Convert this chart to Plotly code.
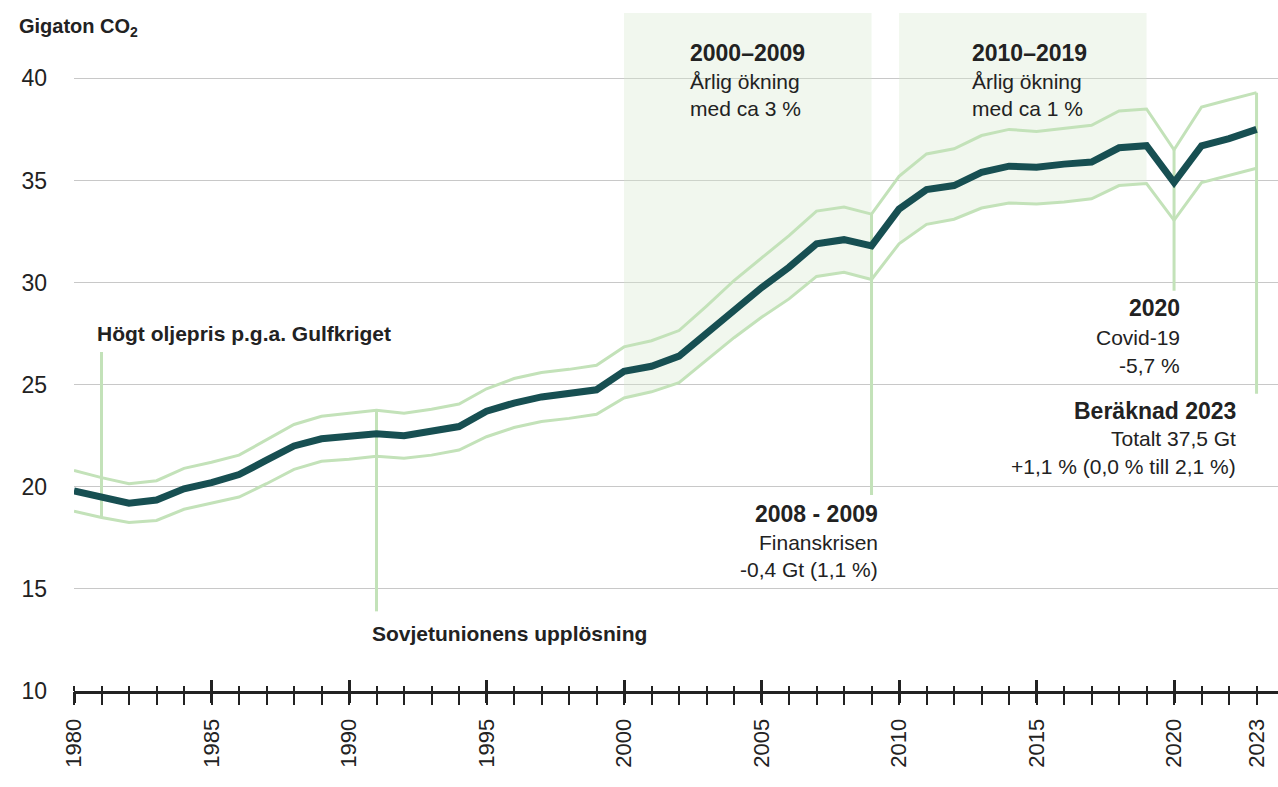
import plotly.graph_objects as go

# ---------------- data ----------------
years = list(range(1980, 2024))
central = [19.8, 19.5, 19.2, 19.35, 19.9, 20.2, 20.6, 21.3, 22.0, 22.35,
           22.5, 22.6, 22.5, 22.7, 22.95, 23.7, 24.1, 24.4, 24.55, 24.75,
           25.65, 25.9, 26.4, 27.5, 28.7, 29.75, 30.75, 31.9, 32.1, 31.8,
           33.6, 34.55, 34.75, 35.4, 35.7, 35.65, 35.8, 35.9, 36.6, 36.7,
           34.9, 36.7, 37.05, 37.5]
upper = [20.8, 20.45, 20.15, 20.3, 20.9, 21.2, 21.55, 22.3, 23.05, 23.45,
         23.6, 23.75, 23.6, 23.8, 24.05, 24.8, 25.3, 25.6, 25.75, 25.95,
         26.85, 27.15, 27.65, 28.85, 30.1, 31.2, 32.3, 33.5, 33.7, 33.35,
         35.2, 36.3, 36.55, 37.2, 37.5, 37.4, 37.55, 37.7, 38.4, 38.5,
         36.5, 38.6, 38.95, 39.3]
lower = [18.8, 18.5, 18.25, 18.35, 18.9, 19.2, 19.5, 20.15, 20.85, 21.25,
         21.35, 21.5, 21.4, 21.55, 21.8, 22.45, 22.9, 23.2, 23.35, 23.55,
         24.35, 24.65, 25.1, 26.2, 27.3, 28.3, 29.2, 30.3, 30.5, 30.15,
         31.9, 32.85, 33.1, 33.65, 33.9, 33.85, 33.95, 34.1, 34.75, 34.85,
         33.05, 34.9, 35.25, 35.6]

shade_periods = [(2000, 2009), (2010, 2019)]
shade_top = 43.2

event_years = [1981, 1991, 2009, 2020, 2023]
event_top = [26.6, 23.75, 33.35, 36.5, 39.3]
event_bottom = [18.5, 13.9, 19.6, 29.6, 24.55]

ytick_vals = [10, 15, 20, 25, 30, 35, 40]
xtick_vals = [1980, 1985, 1990, 1995, 2000, 2005, 2010, 2015, 2020, 2023]
major_ticks = [1980, 1985, 1990, 1995, 2000, 2005, 2010, 2015, 2020]

# ---------------- style ----------------
FONT = "Liberation Sans, Arial, sans-serif"
TXT = "#222222"
DARK = "#174f52"
LIGHT = "#c3e2b9"
SHADE = "rgba(214, 232, 206, 0.35)"
GRID = "#c8c8c8"

fig = go.Figure()

# shaded periods: from the lower band up to the top
for a, b in shade_periods:
    idx = [i for i, y in enumerate(years) if a <= y <= b]
    xs = [years[i] for i in idx] + [years[i] for i in reversed(idx)]
    ys = [lower[i] for i in idx] + [shade_top for _ in idx]
    fig.add_trace(go.Scatter(x=xs, y=ys, fill="toself", fillcolor=SHADE,
                             mode="lines", line=dict(width=0),
                             hoverinfo="skip", showlegend=False))

# uncertainty band lines
for band in (upper, lower):
    fig.add_trace(go.Scatter(x=years, y=band, mode="lines",
                             line=dict(color=LIGHT, width=3),
                             hoverinfo="skip", showlegend=False))

# event marker lines
vx, vy = [], []
for x, t, btm in zip(event_years, event_top, event_bottom):
    vx += [x, x, None]
    vy += [t, btm, None]
fig.add_trace(go.Scatter(x=vx, y=vy, mode="lines",
                         line=dict(color=LIGHT, width=3),
                         hoverinfo="skip", showlegend=False))

# central estimate
fig.add_trace(go.Scatter(x=years, y=central, mode="lines",
                         line=dict(color=DARK, width=7),
                         showlegend=False))

# invisible traces to activate the overlay tick axes
for ax in ("x2", "x3"):
    fig.add_trace(go.Scatter(x=[years[0]], y=[central[0]], xaxis=ax,
                             mode="markers", opacity=0,
                             hoverinfo="skip", showlegend=False))

# ---------------- annotations ----------------
def note(x, y, text, anchor="left", bold=False, size=21):
    fig.add_annotation(x=x, y=y, xref="x", yref="y", text=(f"<b>{text}</b>" if bold else text),
                       showarrow=False, xanchor=anchor, yanchor="middle",
                       font=dict(family=FONT, size=size, color=TXT))

note(1980.76, 27.5, "Högt oljepris p.g.a. Gulfkriget", bold=True, size=21)
note(1990.76, 12.84, "Sovjetunionens upplösning", bold=True, size=21)

note(2002.33, 41.23, "2000–2009", bold=True, size=23)
note(2002.33, 39.85, "Årlig ökning")
note(2002.33, 38.53, "med ca 3 %")

note(2012.58, 41.23, "2010–2019", bold=True, size=23)
note(2012.58, 39.85, "Årlig ökning")
note(2012.58, 38.53, "med ca 1 %")

note(2009.31, 18.68, "2008 - 2009", anchor="right", bold=True, size=23)
note(2009.31, 17.25, "Finanskrisen", anchor="right")
note(2009.31, 15.93, "-0,4 Gt (1,1 %)", anchor="right")

note(2020.29, 28.77, "2020", anchor="right", bold=True, size=23)
note(2020.29, 27.30, "Covid-19", anchor="right")
note(2020.29, 25.93, "-5,7 %", anchor="right")

note(2022.33, 23.73, "Beräknad 2023", anchor="right", bold=True, size=23)
note(2022.33, 22.35, "Totalt 37,5 Gt", anchor="right")
note(2022.33, 20.98, "+1,1 % (0,0 % till 2,1 %)", anchor="right")

fig.add_annotation(x=-0.0473, y=0.979, xref="paper", yref="paper",
                   text="<b>Gigaton CO<sub>2</sub></b>", showarrow=False,
                   xanchor="left", yanchor="middle",
                   font=dict(family=FONT, size=20, color=TXT))

# ---------------- layout ----------------
xr = [1980, 2023.78]
fig.update_layout(
    width=1278, height=787,
    margin=dict(l=74, r=0, t=13, b=96),
    plot_bgcolor="white", paper_bgcolor="white",
    font=dict(family=FONT, color=TXT),
    xaxis=dict(range=xr, tickmode="array", tickvals=xtick_vals,
               ticktext=[str(v) for v in xtick_vals], tickangle=-90,
               ticks="", showline=True, linecolor=TXT, linewidth=3,
               showgrid=False, zeroline=False, ticklabelstandoff=16,
               tickfont=dict(family=FONT, size=22, color=TXT),
               minor=dict(tickmode="array", tickvals=years, ticks="outside",
                          ticklen=11, tickwidth=1.5, tickcolor=TXT)),
    xaxis2=dict(range=xr, matches="x", overlaying="x", anchor="y", side="bottom",
                tickmode="array", tickvals=major_ticks, ticks="outside",
                ticklen=11, tickwidth=3, tickcolor=TXT, showticklabels=False,
                showgrid=False, zeroline=False, showline=False,
                minor=dict(tickmode="array", tickvals=years, ticks="inside",
                           ticklen=5, tickwidth=1.5, tickcolor=TXT)),
    xaxis3=dict(range=xr, matches="x", overlaying="x", anchor="y", side="bottom",
                tickmode="array", tickvals=major_ticks, ticks="inside",
                ticklen=11, tickwidth=3, tickcolor=TXT, showticklabels=False,
                showgrid=False, zeroline=False, showline=False),
    yaxis=dict(range=[10, 43.2], tickmode="array", tickvals=ytick_vals,
               ticks="", showgrid=True, gridcolor=GRID, gridwidth=1,
               zeroline=False, showline=False, ticklabelstandoff=26,
               tickfont=dict(family=FONT, size=23, color=TXT)),
)

fig.write_html("out.html", config={"displayModeBar": False},
               post_script="document.body.style.margin='0';")
